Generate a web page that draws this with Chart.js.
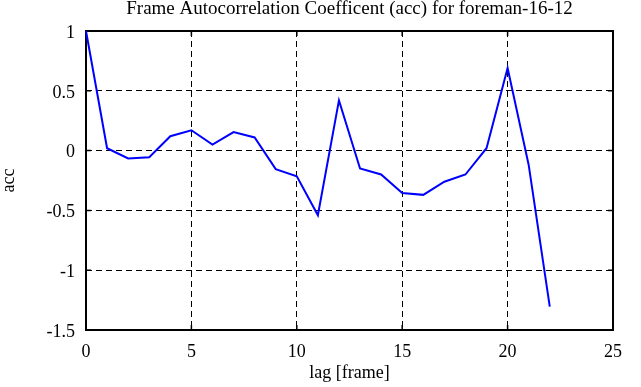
<!DOCTYPE html>
<html>
<head>
<meta charset="utf-8">
<script src="https://cdn.jsdelivr.net/npm/chart.js@4"></script>
<style>
  body { margin: 0; background: #fff; }
  canvas { display: block; }
</style>
</head>
<body>
<canvas id="accChart" width="641" height="387"></canvas>
<script>
// lag in frames and the autocorrelation
const lags = [0, 1, 2, 3, 4, 5, 6, 7, 8, 9, 10, 11, 12, 13, 14, 15, 16, 17, 18, 19, 20, 21, 22];
const accValues = [1.0, 0.02, -0.065, -0.055, 0.12, 0.17, 0.05, 0.155, 0.11, -0.155, -0.215, -0.54, 0.42,
  -0.15, -0.2, -0.355, -0.37, -0.26, -0.2, 0.02, 0.69, -0.12, -1.305];
const xTicks = [0, 5, 10, 15, 20, 25];
const yTicks = [-1.5, -1, -0.5, 0, 0.5, 1];

const serif = "'Liberation Serif', 'DejaVu Serif', serif";

// box round the plot plus small inward tick marks
const frameBox = {
  id: "frameBox",
  beforeDatasetsDraw(chart) {
    const { ctx, chartArea: a, scales } = chart;
    const len = 5;
    ctx.save();
    ctx.strokeStyle = "#000";
    ctx.lineWidth = 1.5;
    ctx.beginPath();
    xTicks.forEach((t) => {
      const px = scales.x.getPixelForValue(t);
      ctx.moveTo(px, a.top);
      ctx.lineTo(px, a.top + len);
      ctx.moveTo(px, a.bottom);
      ctx.lineTo(px, a.bottom - len);
    });
    yTicks.forEach((t) => {
      const py = scales.y.getPixelForValue(t);
      ctx.moveTo(a.left, py);
      ctx.lineTo(a.left + len, py);
      ctx.moveTo(a.right, py);
      ctx.lineTo(a.right - len, py);
    });
    ctx.stroke();
    ctx.lineWidth = 2;
    ctx.strokeRect(a.left, a.top, a.right - a.left, a.bottom - a.top);
    ctx.restore();
  },
};

const points = lags.map((lag, i) => ({ x: lag, y: accValues[i] }));

new Chart(document.getElementById("accChart"), {
  type: "line",
  data: {
    datasets: [
      {
        label: "acc",
        data: points,
        borderColor: "#0000ff",
        borderWidth: 2,
        pointRadius: 0,
        tension: 0,
        fill: false,
        clip: false,
      },
    ],
  },
  options: {
    responsive: false,
    animation: false,
    layout: { padding: { left: 0, right: 28, top: 0, bottom: 0 } },
    plugins: {
      legend: { display: false },
      tooltip: { enabled: false },
      title: {
        display: true,
        fullSize: false,
        text: "Frame Autocorrelation Coefficent (acc) for foreman-16-12",
        color: "#000",
        font: { family: serif, size: 19, weight: "normal", lineHeight: 1 },
        padding: { top: 0, bottom: 12 },
      },
    },
    scales: {
      x: {
        type: "linear",
        min: 0,
        max: 25,
        afterBuildTicks(scale) {
          scale.ticks = xTicks.map((v) => ({ value: v }));
        },
        afterFit(scale) {
          scale.height = 57;
        },
        grid: { color: "#000", lineWidth: 1, drawTicks: false },
        border: { display: false, dash: [6, 4] },
        ticks: {
          color: "#000",
          padding: 11,
          maxRotation: 0,
          font: { family: serif, size: 18 },
        },
        title: {
          display: true,
          text: "lag [frame]",
          color: "#000",
          font: { family: serif, size: 18 },
          padding: { top: 0, bottom: 3 },
        },
      },
      y: {
        min: -1.5,
        max: 1,
        afterBuildTicks(scale) {
          scale.ticks = yTicks.map((v) => ({ value: v }));
        },
        afterFit(scale) {
          scale.width = 86;
        },
        grid: { color: "#000", lineWidth: 1, drawTicks: false },
        border: { display: false, dash: [6, 4] },
        ticks: {
          color: "#000",
          padding: 11,
          labelOffset: 2,
          font: { family: serif, size: 18 },
          callback: (value) => String(value),
        },
        title: {
          display: true,
          text: "acc",
          color: "#000",
          font: { family: serif, size: 18, lineHeight: 1 },
          padding: { top: 0, bottom: 0 },
        },
      },
    },
  },
  plugins: [frameBox],
});
</script>
</body>
</html>
